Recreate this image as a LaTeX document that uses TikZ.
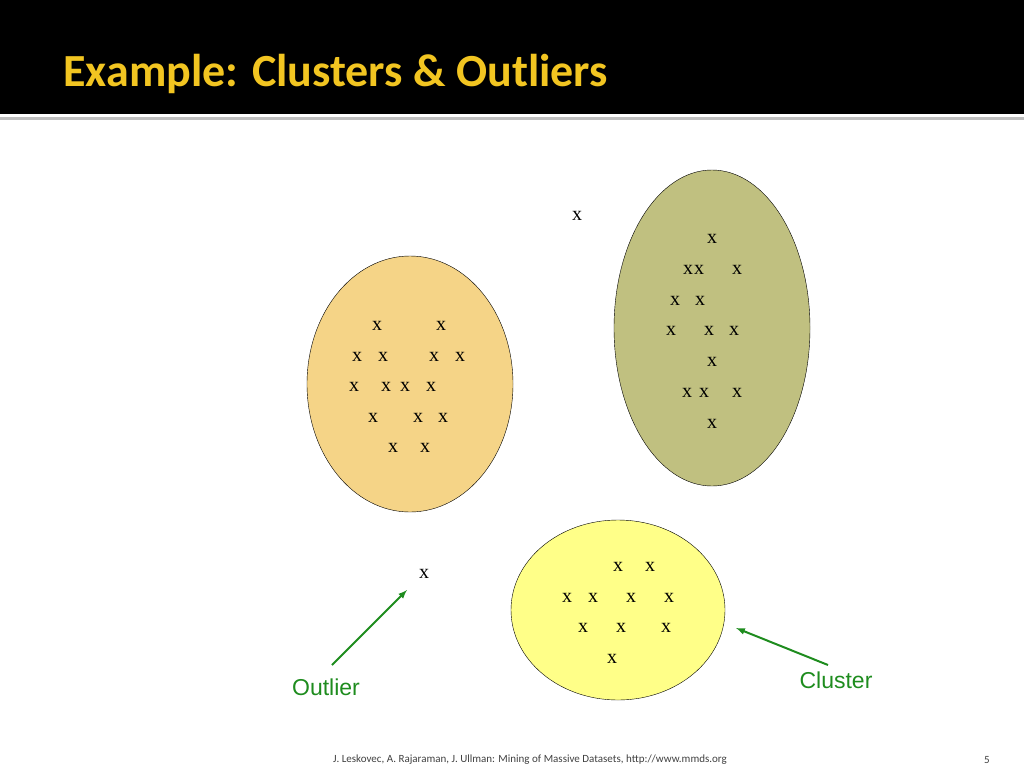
\documentclass[tikz,border=0pt]{standalone}
\usepackage{fontspec}
\setmainfont{Liberation Serif}
\newfontfamily\titlefont{Carlito}
\newfontfamily\labelfont{Liberation Sans}
\definecolor{titleyellow}{HTML}{F2C521}
\definecolor{orangefill}{HTML}{F5D487}
\definecolor{olivefill}{HTML}{C0C080}
\definecolor{yellowfill}{HTML}{FFFF88}
\definecolor{arrowgreen}{HTML}{1E8C1E}
\begin{document}
\begin{tikzpicture}[x=1pt,y=-1pt,>=latex,
  blob/.style={draw=black,ellipse,line width=0.8pt},
  pt/.style={font=\fontsize{20}{20}\selectfont,inner sep=0pt},
  callout/.style={font=\labelfont\fontsize{23}{23}\selectfont,text=arrowgreen}]
\useasboundingbox (0,0) rectangle (1024,768);
\fill[black] (0,0) rectangle (1024,114);
\fill[gray!50] (0,117) rectangle (1024,120);
\node[anchor=base west,text=titleyellow,font=\titlefont\bfseries\fontsize{46}{46}\selectfont] (title) at (60,86) {Example: Clusters \& Outliers};
% clusters
\fill[orangefill,draw=black] (410,384) ellipse [x radius=103,y radius=128];
\fill[olivefill,draw=black] (712,328) ellipse [x radius=98,y radius=158];
\fill[yellowfill,draw=black] (618,610) ellipse [x radius=107,y radius=90];
% points
\foreach \px/\py in {377/326,441/326,357/357,383/357,434/357,460/357,354/387,386/387,405/387,431/387,373/418,418/418,443/418,393/448,425/448}
  \node[pt] at (\px,\py) {x};
\foreach \px/\py in {712/239,688/270,699/270,737/270,675/301,700/301,671/331,709/331,734/331,712/362,687/393,704/393,737/393,712/424}
  \node[pt] at (\px,\py) {x};
\foreach \px/\py in {618/567,650/567,567/598,593/598,631/598,669/598,583/628,621/628,666/628,612/659}
  \node[pt] at (\px,\py) {x};
\node[pt] (stray) at (577,216) {x};
\node[pt] (lone) at (424,574) {x};
% labels
\node[callout] (outlier) at (326,687) {Outlier};
\node[callout] (cluster) at (836,680) {Cluster};
\coordinate (otail) at (332,665);
\coordinate (ohead) at (407,590);
\coordinate (ctail) at (828,665);
\coordinate (chead) at (736,628);
\draw[->,arrowgreen,line width=2pt] (otail) -- (ohead);
\draw[->,arrowgreen,line width=2pt] (ctail) -- (chead);
% footer
\node[font=\titlefont\fontsize{11}{11}\selectfont,text=black!75] (footer) at (530,760) {J. Leskovec, A. Rajaraman, J. Ullman: Mining of Massive Datasets, http://www.mmds.org};
\node[font=\titlefont\fontsize{11}{11}\selectfont,text=black!75] (page) at (987,760) {5};
\end{tikzpicture}
\end{document}
